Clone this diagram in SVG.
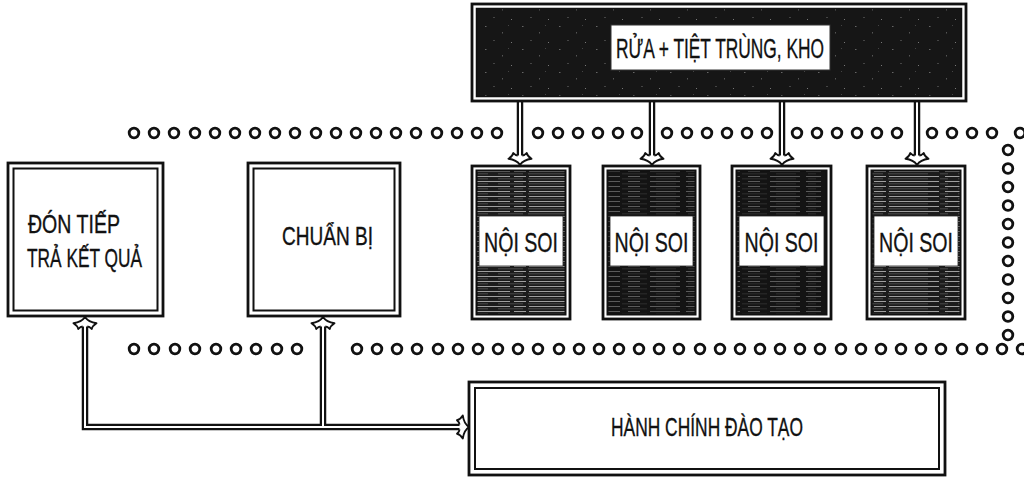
<svg xmlns="http://www.w3.org/2000/svg" xmlns:xlink="http://www.w3.org/1999/xlink" width="1024" height="477" viewBox="0 0 1024 477">
<style>
.bg{fill:#fff}
.ob{fill:#fff;stroke:#111;stroke-width:2.8}
.ib{fill:none;stroke:#111;stroke-width:2}
.dot{fill:#fff;stroke:#111;stroke-width:2.8}
.dlo{fill:none;stroke:#111;stroke-width:6.5;stroke-linejoin:miter}
.dli{fill:none;stroke:#fff;stroke-width:2}
.ah{fill:#fff;stroke:#111;stroke-width:1.9;stroke-linejoin:round}
.t{font-family:"Liberation Sans",Arial,sans-serif;fill:#111;stroke:#111;stroke-width:0.35}
.band{fill:#fff;stroke:#222;stroke-width:0.8}
</style>
<defs>
<pattern id="st1" width="120" height="5" patternUnits="userSpaceOnUse">
<rect width="120" height="5" fill="#1c1c1c"/>
<line x1="0" y1="1.5" x2="120" y2="1.5" stroke="#e0e0e0" stroke-width="0.9" stroke-dasharray="30 4 12 3 50 6 15" opacity="0.75"/>
<line x1="0" y1="3.8" x2="120" y2="3.8" stroke="#999" stroke-width="0.6" stroke-dasharray="8 10 25 5 40 12" opacity="0.6"/>
</pattern>
<pattern id="st2" width="120" height="5" patternUnits="userSpaceOnUse">
<rect width="120" height="5" fill="#141414"/>
<line x1="0" y1="1.5" x2="120" y2="1.5" stroke="#bbb" stroke-width="0.7" stroke-dasharray="20 8 12 10 30 6 15" opacity="0.6"/>
<line x1="0" y1="3.8" x2="120" y2="3.8" stroke="#777" stroke-width="0.5" stroke-dasharray="8 14 25 9 20 12" opacity="0.5"/>
</pattern>
<pattern id="sp" width="37" height="23" patternUnits="userSpaceOnUse">
<rect width="37" height="23" fill="#161616"/>
<rect x="4" y="3" width="1.5" height="1" fill="#666"/>
<rect x="21" y="9" width="1" height="1.5" fill="#555"/>
<rect x="12" y="17" width="2" height="1" fill="#444"/>
<rect x="30" y="19" width="1" height="1" fill="#777"/>
<rect x="27" y="2" width="1" height="1" fill="#444"/>
</pattern>
<path id="ah" class="ah" d="M2.4,9.5 C3.3,9.5 5,10 6.7,12 C7.2,9.5 9,7.8 11.5,6.2 C6.8,5.6 2.3,3.4 0,0 C-2.3,3.4 -6.8,5.6 -11.5,6.2 C-9,7.8 -7.2,9.5 -6.7,12 C-5,10 -3.3,9.5 -2.4,9.5"/>
<circle id="d" class="dot" r="4.8"/>
</defs>
<rect class="bg" width="1024" height="477"/>

<g id="dots">
<use href="#d" x="134" y="133"/><use href="#d" x="154" y="133"/><use href="#d" x="174" y="133"/><use href="#d" x="195" y="133"/><use href="#d" x="215" y="133"/><use href="#d" x="235" y="133"/><use href="#d" x="255" y="133"/><use href="#d" x="275" y="133"/><use href="#d" x="295" y="133"/><use href="#d" x="316" y="133"/><use href="#d" x="336" y="133"/><use href="#d" x="356" y="133"/><use href="#d" x="376" y="133"/><use href="#d" x="396" y="133"/><use href="#d" x="416" y="133"/><use href="#d" x="437" y="133"/><use href="#d" x="457" y="133"/><use href="#d" x="477" y="133"/><use href="#d" x="497" y="133"/>
<use href="#d" x="538" y="133"/><use href="#d" x="558" y="133"/><use href="#d" x="578" y="133"/><use href="#d" x="598" y="133"/><use href="#d" x="618" y="133"/><use href="#d" x="637" y="133"/>
<use href="#d" x="667" y="133"/><use href="#d" x="687" y="133"/><use href="#d" x="707" y="133"/><use href="#d" x="727" y="133"/><use href="#d" x="747" y="133"/><use href="#d" x="767" y="133"/>
<use href="#d" x="797" y="133"/><use href="#d" x="817" y="133"/><use href="#d" x="837" y="133"/><use href="#d" x="857" y="133"/><use href="#d" x="877" y="133"/><use href="#d" x="897" y="133"/>
<use href="#d" x="932" y="133"/><use href="#d" x="952" y="133"/><use href="#d" x="972" y="133"/><use href="#d" x="992" y="133"/><use href="#d" x="1020" y="133"/>
<use href="#d" x="1008" y="150"/><use href="#d" x="1008" y="168.5"/><use href="#d" x="1008" y="187"/><use href="#d" x="1008" y="205.5"/><use href="#d" x="1008" y="224"/><use href="#d" x="1008" y="242.5"/><use href="#d" x="1008" y="261"/><use href="#d" x="1008" y="279.5"/><use href="#d" x="1008" y="298"/><use href="#d" x="1008" y="316.5"/><use href="#d" x="1008" y="335"/>
<use href="#d" x="134" y="349"/><use href="#d" x="154" y="349"/><use href="#d" x="175" y="349"/><use href="#d" x="195" y="349"/><use href="#d" x="216" y="349"/><use href="#d" x="236" y="349"/><use href="#d" x="256" y="349"/><use href="#d" x="277" y="349"/><use href="#d" x="297" y="349"/>
<use href="#d" x="357" y="349"/><use href="#d" x="377" y="349"/><use href="#d" x="397" y="349"/><use href="#d" x="417" y="349"/><use href="#d" x="438" y="349"/><use href="#d" x="458" y="349"/><use href="#d" x="478" y="349"/><use href="#d" x="498" y="349"/><use href="#d" x="518" y="349"/><use href="#d" x="538" y="349"/><use href="#d" x="559" y="349"/><use href="#d" x="579" y="349"/><use href="#d" x="599" y="349"/><use href="#d" x="619" y="349"/><use href="#d" x="639" y="349"/><use href="#d" x="659" y="349"/><use href="#d" x="679" y="349"/><use href="#d" x="700" y="349"/><use href="#d" x="720" y="349"/><use href="#d" x="740" y="349"/><use href="#d" x="760" y="349"/><use href="#d" x="780" y="349"/><use href="#d" x="800" y="349"/><use href="#d" x="820" y="349"/><use href="#d" x="841" y="349"/><use href="#d" x="861" y="349"/><use href="#d" x="881" y="349"/><use href="#d" x="901" y="349"/><use href="#d" x="921" y="349"/><use href="#d" x="941" y="349"/><use href="#d" x="962" y="349"/><use href="#d" x="982" y="349"/><use href="#d" x="1002" y="349"/><use href="#d" x="1022" y="349"/>
</g>

<g id="connectors">
<path class="dlo" d="M520,100 V156 M652,100 V156 M782,100 V156 M917,100 V156"/>
<path class="dli" d="M520,100 V156 M652,100 V156 M782,100 V156 M917,100 V156"/>
<path class="dlo" d="M85,326 V427 H461 M323,326 V427"/>
<path class="dli" d="M85,326 V427 H461 M323,326 V427"/>
<use href="#ah" transform="translate(520,165) rotate(180)"/>
<use href="#ah" transform="translate(652,165) rotate(180)"/>
<use href="#ah" transform="translate(782,165) rotate(180)"/>
<use href="#ah" transform="translate(917,165) rotate(180)"/>
<use href="#ah" transform="translate(85,317)"/>
<use href="#ah" transform="translate(323,317)"/>
<use href="#ah" transform="translate(469,427) rotate(90)"/>
</g>

<g id="rua">
<rect class="ob" x="472" y="4" width="494" height="97"/>
<rect x="476.5" y="8.5" width="485" height="88" fill="url(#sp)" stroke="#111" stroke-width="1.5"/>
<rect x="611" y="25" width="219" height="45" fill="#fff" stroke="#333" stroke-width="1"/>
<text class="t" x="720" y="58" font-size="27" text-anchor="middle" textLength="208" lengthAdjust="spacingAndGlyphs">RỬA + TIỆT TRÙNG, KHO</text>
</g>

<g id="don-tiep">
<rect class="ob" x="8" y="163" width="155" height="153"/>
<rect class="ib" x="13.5" y="168.5" width="144" height="142"/>
<text class="t" x="28" y="233" font-size="25" textLength="92" lengthAdjust="spacingAndGlyphs">ĐÓN TIẾP</text>
<text class="t" x="27" y="267" font-size="25" textLength="115" lengthAdjust="spacingAndGlyphs">TRẢ KẾT QUẢ</text>
</g>

<g id="chuan-bi">
<rect class="ob" x="248" y="163" width="152" height="153"/>
<rect class="ib" x="253.5" y="168.5" width="141" height="142"/>
<text class="t" x="282" y="245" font-size="25" textLength="91" lengthAdjust="spacingAndGlyphs">CHUẨN BỊ</text>
</g>

<g id="noi-soi-1">
<rect class="ob" x="472" y="166" width="98" height="153"/>
<rect x="476.5" y="170.5" width="89" height="144" fill="url(#st1)" stroke="#111" stroke-width="2"/>
<rect class="band" x="479" y="216" width="84" height="50"/>
<text class="t" x="521" y="252" font-size="28" text-anchor="middle" textLength="74" lengthAdjust="spacingAndGlyphs">NỘI SOI</text>
</g>

<g id="noi-soi-2">
<rect class="ob" x="603" y="166" width="97" height="153"/>
<rect x="607.5" y="170.5" width="88" height="144" fill="url(#st2)" stroke="#111" stroke-width="2"/>
<rect class="band" x="610" y="216" width="83" height="50"/>
<text class="t" x="651.5" y="252" font-size="28" text-anchor="middle" textLength="74" lengthAdjust="spacingAndGlyphs">NỘI SOI</text>
</g>

<g id="noi-soi-3">
<rect class="ob" x="732" y="166" width="99" height="153"/>
<rect x="736.5" y="170.5" width="90" height="144" fill="url(#st2)" stroke="#111" stroke-width="2"/>
<rect class="band" x="739" y="216" width="85" height="50"/>
<text class="t" x="781.5" y="252" font-size="28" text-anchor="middle" textLength="74" lengthAdjust="spacingAndGlyphs">NỘI SOI</text>
</g>

<g id="noi-soi-4">
<rect class="ob" x="867" y="166" width="98" height="153"/>
<rect x="871.5" y="170.5" width="89" height="144" fill="url(#st1)" stroke="#111" stroke-width="2"/>
<rect class="band" x="874" y="216" width="84" height="50"/>
<text class="t" x="916" y="252" font-size="28" text-anchor="middle" textLength="74" lengthAdjust="spacingAndGlyphs">NỘI SOI</text>
</g>

<g id="hanh-chinh">
<rect class="ob" x="469" y="382" width="476" height="93"/>
<rect class="ib" x="475" y="388" width="464" height="81"/>
<text class="t" x="707" y="436" font-size="25" text-anchor="middle" textLength="192" lengthAdjust="spacingAndGlyphs">HÀNH CHÍNH ĐÀO TẠO</text>
</g>
</svg>
